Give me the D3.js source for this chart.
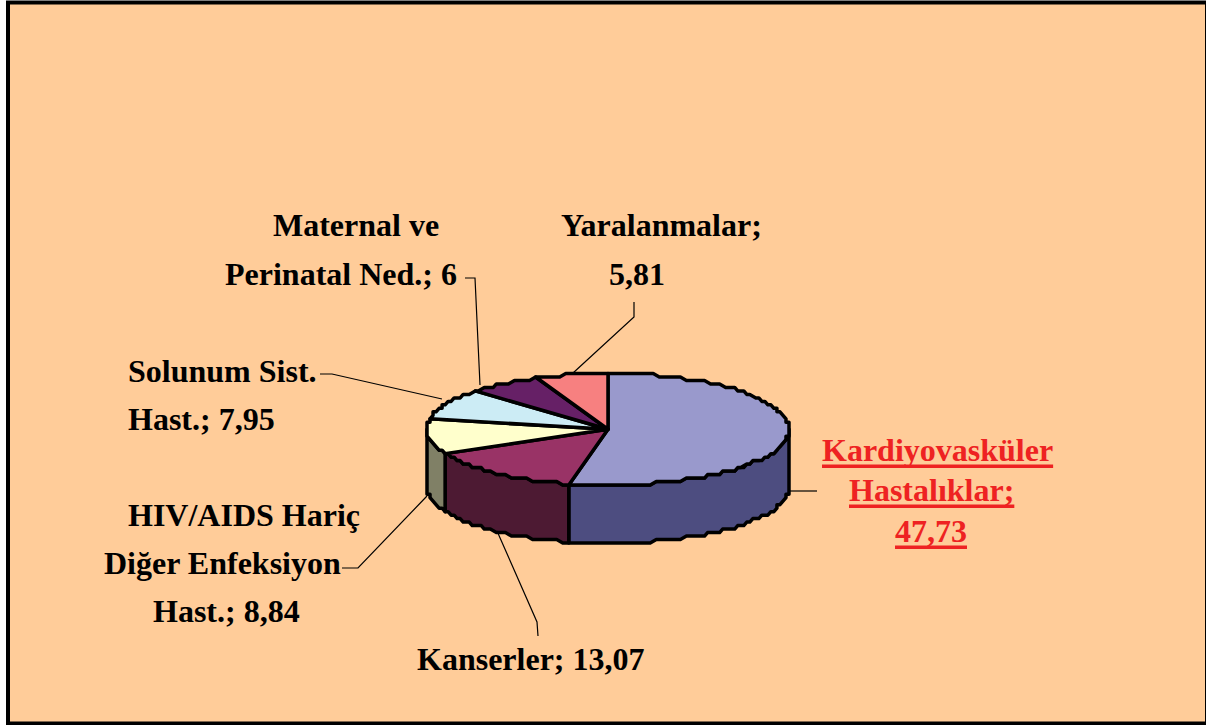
<!DOCTYPE html>
<html>
<head>
<meta charset="utf-8">
<script src="https://d3js.org/d3.v7.min.js"></script>
<style>
  html, body { margin: 0; padding: 0; background: #fff; overflow: hidden; }
  text { font-family: "Liberation Serif", serif; font-weight: bold; font-size: 32px; }
</style>
</head>
<body>
<div class="chart"></div>
<script>
// Chart data
var categories = ["Kardiyovasküler Hastalıklar", "Kanserler", "HIV/AIDS Hariç Diğer Enfeksiyon Hast.",
  "Solunum Sist. Hast.", "Maternal ve Perinatal Ned.", "Yaralanmalar"];
var values = [47.73, 13.07, 8.84, 7.95, 6, 5.81];
var topColors = ["#9999cc", "#993366", "#ffffcc", "#ccecf5", "#662066", "#f78080"];
var sideColors = ["#4d4d80", "#4d1a33", "#808066", "#66767a", "#331033", "#7c4040"];
var labelLines = [
  ["Kardiyovasküler", "Hastalıklar;", "47,73"],
  ["Kanserler; 13,07"],
  ["HIV/AIDS Hariç", "Diğer Enfeksiyon", "Hast.; 8,84"],
  ["Solunum Sist.", "Hast.; 7,95"],
  ["Maternal ve", "Perinatal Ned.; 6"],
  ["Yaralanmalar;", "5,81"]
];

var svgWidth = 1206;
var svgHeight = 725;

// Where each label line starts, same order as labelLines
var labelX = [[822, 849, 895], [417], [128, 104, 153], [128, 128], [273, 225], [561, 609]];
var labelY = [[461, 501, 542], [670], [526, 574, 622], [382, 430], [236, 285], [236, 285]];

// Leader lines from the labels to the pie
var leaders = [
  [[817, 491], [789, 491]],
  [[538, 636], [537, 622], [497, 531]],
  [[342, 568], [358, 568], [427, 496]],
  [[320, 374], [332, 374], [442, 399]],
  [[465, 278], [475, 278], [480, 385]],
  [[634, 302], [634, 317], [573, 373]]
];

var svg = d3.select(".chart")
  .append("svg")
  .attr("width", svgWidth)
  .attr("height", svgHeight)
  .style("display", "block");

svg.append("rect")
  .attr("x", 8)
  .attr("y", 2.5)
  .attr("width", 1199)
  .attr("height", 721)
  .attr("fill", "#ffcc99")
  .attr("stroke", "#000")
  .attr("stroke-width", 4);

// Unit circle -> tilted ellipse on screen
var xScale = d3.scaleLinear().domain([-1, 1]).range([427, 789]);
var yScale = d3.scaleLinear().domain([-1, 1]).range([373.5, 485]);
var depth = 58;

var pie = d3.pie().sort(null);
var slices = pie(values);

// The original outline is a coarse polygon, so snap the rim to a rough grid
var gridX = (xScale(1) - xScale(0)) / 60;
var gridY = (yScale(1) - yScale(0)) / 16;
function rimPoint(angle) {
  var px = xScale(Math.sin(angle));
  var py = yScale(-Math.cos(angle));
  return [
    xScale(0) + Math.round((px - xScale(0)) / gridX) * gridX,
    yScale(0) + Math.round((py - yScale(0)) / gridY) * gridY
  ];
}

function rimPoints(a0, a1) {
  var steps = Math.max(1, Math.round((a1 - a0) / (Math.PI / 90)));
  return d3.range(steps + 1).map(function(i) {
    return rimPoint(a0 + (a1 - a0) * i / steps);
  });
}

var line = d3.line();

// Side walls, only the part facing the viewer
var sideGroup = svg.append("g");
slices.forEach(function(d, i) {
  var a0 = Math.max(d.startAngle, Math.PI / 2);
  var a1 = Math.min(d.endAngle, Math.PI * 1.5);
  if (a1 <= a0) return;
  var upper = rimPoints(a0, a1);
  var lower = upper.map(function(p) { return [p[0], p[1] + depth]; }).reverse();
  sideGroup.append("path")
    .attr("d", line(upper.concat(lower)) + "Z")
    .attr("fill", sideColors[i])
    .attr("stroke", "#000")
    .attr("stroke-width", 3.5)
    .attr("stroke-linejoin", "round");
});

// Top face
svg.append("g").selectAll("path")
  .data(slices)
  .enter()
  .append("path")
  .attr("d", function(d) {
    return line([[xScale(0), yScale(0)]].concat(rimPoints(d.startAngle, d.endAngle))) + "Z";
  })
  .attr("fill", function(d, i) { return topColors[i]; })
  .attr("stroke", "#000")
  .attr("stroke-width", 3.5)
  .attr("stroke-linejoin", "round");

// Leader lines
svg.append("g").selectAll("path")
  .data(leaders)
  .enter()
  .append("path")
  .attr("d", function(d) { return line(d); })
  .attr("fill", "none")
  .attr("stroke", "#000")
  .attr("stroke-width", 1.2);

// Labels, the first one is red with a heavy underline
labelLines.forEach(function(lines, i) {
  lines.forEach(function(txt, j) {
    var label = svg.append("text")
      .attr("x", labelX[i][j])
      .attr("y", labelY[i][j])
      .attr("fill", i === 0 ? "#ee2222" : "#000")
      .text(txt);
    if (i === 0) {
      svg.append("rect")
        .attr("x", labelX[i][j])
        .attr("y", labelY[i][j] + 3.5)
        .attr("width", label.node().getComputedTextLength())
        .attr("height", 3.5)
        .attr("fill", "#ee2222");
    }
  });
});
</script>
</body>
</html>
